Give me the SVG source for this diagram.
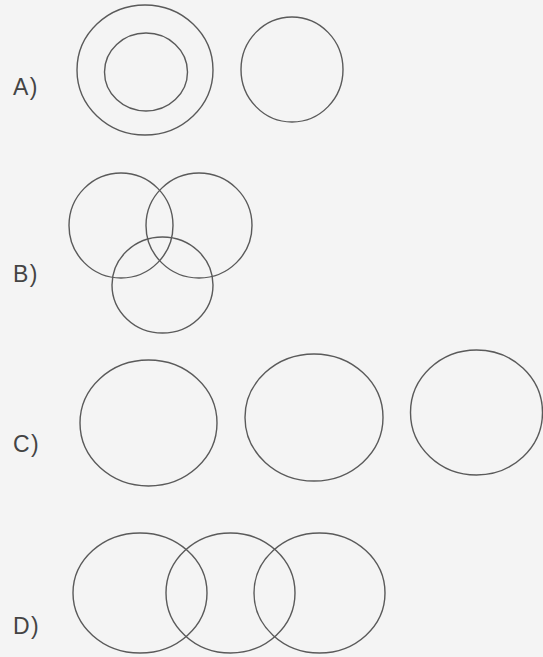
<svg xmlns="http://www.w3.org/2000/svg" width="543" height="657" viewBox="0 0 543 657">
<style>
.c{fill:none;stroke:#5a5a5a;stroke-width:1.4}
.l{font-family:"Liberation Sans",Arial,sans-serif;font-size:23px;fill:#444;letter-spacing:1.5px}
</style>
<rect width="543" height="657" fill="#f4f4f4"/>
<g id="optionA">
<text class="l" x="13" y="95">A)</text>
<ellipse class="c" cx="145" cy="70" rx="68" ry="65"/>
<ellipse class="c" cx="146" cy="72" rx="41.5" ry="39"/>
<ellipse class="c" cx="292" cy="69.5" rx="51" ry="52.5"/>
</g>
<g id="optionB">
<text class="l" x="13" y="282">B)</text>
<ellipse class="c" cx="121" cy="225.5" rx="52" ry="52.5"/>
<ellipse class="c" cx="199" cy="225.5" rx="53" ry="52.5"/>
<ellipse class="c" cx="162.5" cy="285" rx="50.5" ry="48"/>
</g>
<g id="optionC">
<text class="l" x="13" y="452">C)</text>
<ellipse class="c" cx="148.5" cy="423" rx="68.5" ry="63"/>
<ellipse class="c" cx="314" cy="417.5" rx="69" ry="63.5"/>
<ellipse class="c" cx="476.5" cy="412.5" rx="66" ry="62.5"/>
</g>
<g id="optionD">
<text class="l" x="13" y="634">D)</text>
<ellipse class="c" cx="140" cy="593" rx="67" ry="60"/>
<ellipse class="c" cx="230.5" cy="593" rx="64.5" ry="60"/>
<ellipse class="c" cx="319.5" cy="593" rx="65.5" ry="60"/>
</g>
</svg>
